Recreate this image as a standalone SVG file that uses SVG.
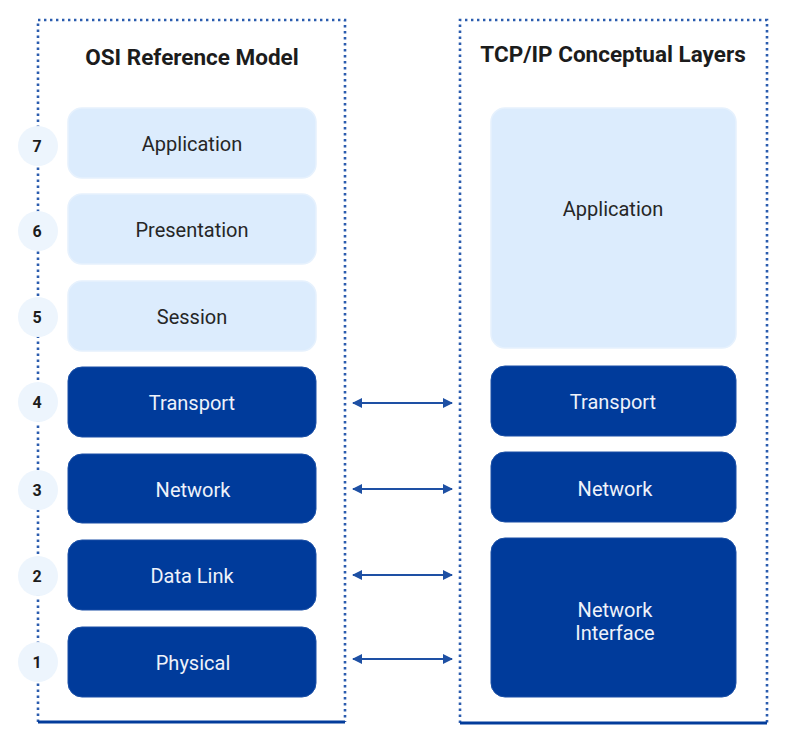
<svg xmlns="http://www.w3.org/2000/svg" width="793" height="746" viewBox="0 0 793 746">
<style>
.dot{fill:none;stroke:#2b5cae;stroke-width:2.6;stroke-dasharray:2.4 3.6}
.base{stroke:#033c9b;stroke-width:3}
.light{fill:#dcecfd;stroke:#e6f1fd;stroke-width:1.5}
.dark{fill:#003b9b;stroke:#1a4fa6;stroke-width:1}
.title{font-family:Roboto,"Liberation Sans",sans-serif;font-size:22.5px;font-weight:bold;fill:#1c1c1c;text-anchor:middle}
.lt{font-family:Roboto,"Liberation Sans",sans-serif;font-size:20px;fill:#262626;text-anchor:middle;dominant-baseline:central}
.dt{font-family:Roboto,"Liberation Sans",sans-serif;font-size:20px;fill:#eef2fa;text-anchor:middle;dominant-baseline:central}
.num{fill:#edf5fd}
.nt{font-family:Roboto,"Liberation Sans",sans-serif;font-size:16px;font-weight:bold;fill:#1c1c1c;text-anchor:middle;dominant-baseline:central}
.arr{stroke:#1e50a4;stroke-width:1.8;marker-start:url(#ah);marker-end:url(#ah)}
</style>
<defs>
<marker id="ah" viewBox="0 0 10 10" refX="9" refY="5" markerWidth="10" markerHeight="11" markerUnits="userSpaceOnUse" orient="auto-start-reverse">
<path d="M0,0 L10,5 L0,10 Z" fill="#1e50a4"/>
</marker>
</defs>
<rect width="793" height="746" fill="#ffffff"/>
<g id="osi-frame">
<path class="dot" d="M38,722 V20 H345 V722"/>
<line class="base" x1="38" y1="722" x2="345" y2="722"/>
<text class="title" x="192" y="65">OSI Reference Model</text>
</g>
<g id="tcp-frame">
<path class="dot" d="M460,723 V20 H767 V723"/>
<line class="base" x1="460" y1="723" x2="767" y2="723"/>
<text class="title" x="613" y="62">TCP/IP Conceptual Layers</text>
</g>
<g id="osi-7"><rect class="light" x="68" y="108" width="248" height="70" rx="14"/><text class="lt" x="192" y="144">Application</text><circle class="num" cx="38" cy="146" r="20"/><text class="nt" x="37" y="146">7</text></g>
<g id="osi-6"><rect class="light" x="68" y="194" width="248" height="70" rx="14"/><text class="lt" x="192" y="230">Presentation</text><circle class="num" cx="38" cy="231" r="20"/><text class="nt" x="37" y="231">6</text></g>
<g id="osi-5"><rect class="light" x="68" y="281" width="248" height="70" rx="14"/><text class="lt" x="192" y="317">Session</text><circle class="num" cx="38" cy="317" r="20"/><text class="nt" x="37" y="317">5</text></g>
<g id="osi-4"><rect class="dark" x="68" y="367" width="248" height="70" rx="14"/><text class="dt" x="192" y="403">Transport</text><circle class="num" cx="38" cy="402" r="20"/><text class="nt" x="37" y="402">4</text></g>
<g id="osi-3"><rect class="dark" x="68" y="454" width="248" height="69" rx="14"/><text class="dt" x="193" y="490">Network</text><circle class="num" cx="38" cy="490" r="20"/><text class="nt" x="37" y="490">3</text></g>
<g id="osi-2"><rect class="dark" x="68" y="540" width="248" height="70" rx="14"/><text class="dt" x="192" y="576">Data Link</text><circle class="num" cx="38" cy="576" r="20"/><text class="nt" x="37" y="576">2</text></g>
<g id="osi-1"><rect class="dark" x="68" y="627" width="248" height="70" rx="14"/><text class="dt" x="193" y="663">Physical</text><circle class="num" cx="38" cy="662" r="20"/><text class="nt" x="37" y="662">1</text></g>
<g id="tcp-app"><rect class="light" x="491" y="108" width="245" height="240" rx="14"/><text class="lt" x="613" y="209">Application</text></g>
<g id="tcp-transport"><rect class="dark" x="491" y="366" width="245" height="70" rx="14"/><text class="dt" x="613" y="402">Transport</text></g>
<g id="tcp-network"><rect class="dark" x="491" y="452" width="245" height="70" rx="14"/><text class="dt" x="615" y="489">Network</text></g>
<g id="tcp-netif"><rect class="dark" x="491" y="538" width="245" height="159" rx="14"/><text class="dt" x="615" y="610">Network</text><text class="dt" x="615" y="633">Interface</text></g>
<g id="connectors">
<line class="arr" x1="353" y1="403" x2="452" y2="403"/>
<line class="arr" x1="353" y1="489" x2="452" y2="489"/>
<line class="arr" x1="353" y1="575" x2="452" y2="575"/>
<line class="arr" x1="353" y1="659" x2="452" y2="659"/>
</g>
</svg>
